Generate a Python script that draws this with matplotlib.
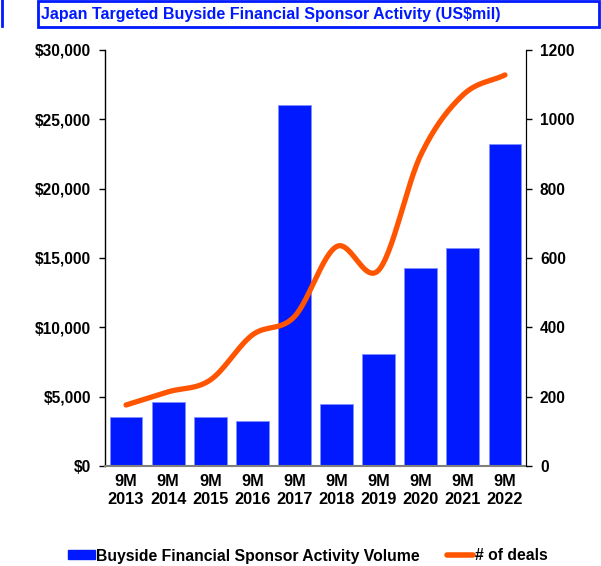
import numpy as np
import matplotlib
matplotlib.use("Agg")
import matplotlib.pyplot as plt
from matplotlib.patches import Rectangle
from matplotlib.lines import Line2D

plt.rcParams['font.family'] = ['Liberation Sans', 'DejaVu Sans']
plt.rcParams['font.weight'] = 'bold'

# data
periods = ["9M\n2013", "9M\n2014", "9M\n2015", "9M\n2016", "9M\n2017",
           "9M\n2018", "9M\n2019", "9M\n2020", "9M\n2021", "9M\n2022"]
volume = [3500, 4640, 3500, 3220, 26030, 4470, 8100, 14300, 15740, 23190]
deals = [176, 214, 248, 378, 431, 633, 565, 897, 1070, 1128]

BLUE = "#0019FF"
ORANGE = "#FF5500"


def smooth(xs, ys, n=30):
    # catmull-rom like excel's smoothed line
    xs = np.asarray(xs, float)
    ys = np.asarray(ys, float)
    px = np.concatenate([[2*xs[0]-xs[1]], xs, [2*xs[-1]-xs[-2]]])
    py = np.concatenate([[2*ys[0]-ys[1]], ys, [2*ys[-1]-ys[-2]]])
    outx, outy = [], []
    for i in range(1, len(px)-2):
        t = np.linspace(0, 1, n)
        for p, out in ((px, outx), (py, outy)):
            p0, p1, p2, p3 = p[i-1], p[i], p[i+1], p[i+2]
            out.extend(0.5*((2*p1) + (-p0+p2)*t + (2*p0-5*p1+4*p2-p3)*t**2
                            + (-p0+3*p1-3*p2+p3)*t**3))
    return np.array(outx), np.array(outy)


fig = plt.figure(figsize=(6.01, 5.66), dpi=100)
ax = fig.add_axes([105/601, 100/566, 421/601, 416/566])
x = np.arange(len(periods))
ax.bar(x, volume, width=0.78, color=BLUE, edgecolor="#8090FF", linewidth=0.6, zorder=2)
ax.set_xlim(-0.5, 9.5)
ax.set_ylim(0, 30000)
ax.set_yticks(np.arange(0, 30001, 5000))
ax.set_yticklabels(["${:,}".format(v) for v in range(0, 30001, 5000)])
ax.set_xticks(x)
ax.set_xticklabels(periods)
ax.tick_params(axis='x', length=0, pad=6, labelsize=11.8)
ax.tick_params(axis='y', length=4, width=1, pad=6, labelsize=11.2)
ax.spines['top'].set_visible(False)
ax.spines['bottom'].set_color("#808080")
ax.spines['bottom'].set_linewidth(1.5)
ax.spines['left'].set_linewidth(1)

ax2 = ax.twinx()
sx, sy = smooth(x, deals)
ax2.plot(sx, sy, color=ORANGE, linewidth=3.8, solid_capstyle='round', zorder=3)
ax2.set_ylim(0, 1200)
ax2.set_yticks(np.arange(0, 1201, 200))
ax2.tick_params(axis='y', length=4, width=1, pad=6, labelsize=11.2)
ax2.spines['top'].set_visible(False)
ax2.spines['bottom'].set_visible(False)
ax2.spines['left'].set_visible(False)

# title box
fig.patches.append(Rectangle((38/601, 1 - 27/566), 561/601, 26/566, transform=fig.transFigure,
                             fill=False, edgecolor=BLUE, linewidth=2))
fig.add_artist(Line2D([2/601, 2/601], [1, 1 - 26/566], transform=fig.transFigure,
                      color=BLUE, linewidth=2))
fig.text(41/601, 1 - 15/566, "Japan Targeted Buyside Financial Sponsor Activity (US$mil)",
         color=BLUE, fontsize=11.5, fontweight='bold', va='center', ha='left')

handles = [Rectangle((0, 0), 1, 1, color=BLUE),
           Line2D([], [], color=ORANGE, linewidth=4, solid_capstyle='round')]
fig.legend(handles, ["Buyside Financial Sponsor Activity Volume", "# of deals"],
           loc='center', bbox_to_anchor=(308/601, 1 - 556/566), ncol=2, frameon=False,
           fontsize=11.3, handlelength=1.7, handletextpad=0.1, columnspacing=1.7,
           handleheight=0.5)

fig.savefig("out.png", dpi=100)
